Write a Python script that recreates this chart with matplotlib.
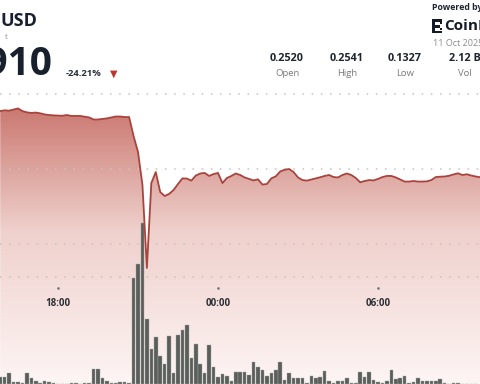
import matplotlib

matplotlib.use("Agg")
import matplotlib.dates as mdates  # noqa: E402
import matplotlib.pyplot as plt  # noqa: E402
import matplotlib.transforms as mtransforms  # noqa: E402
import numpy as np  # noqa: E402
import pandas as pd  # noqa: E402
from matplotlib.colors import LinearSegmentedColormap  # noqa: E402
from matplotlib.patches import Polygon, Rectangle  # noqa: E402

plt.rcParams["font.family"] = ["Open Sans", "DejaVu Sans"]

W, H = 480, 384

# 10-minute price closes, 15:50 (10 Oct) onward
prices = [
    0.2509, 0.2513, 0.2511, 0.2517, 0.2523, 0.2509, 0.2502, 0.2499, 0.2501, 0.2497,
    0.2491, 0.2488, 0.2486, 0.2485, 0.2484, 0.2488, 0.2483, 0.2483, 0.2483, 0.2479,
    0.2475, 0.2464, 0.2464, 0.2467, 0.2470, 0.2475, 0.2480, 0.2480, 0.2477, 0.2477,
    0.2376, 0.2291, 0.2115, 0.1672, 0.2125, 0.2184, 0.2077, 0.2056, 0.2067, 0.2088,
    0.2120, 0.2150, 0.2149, 0.2138, 0.2165, 0.2176, 0.2179, 0.2163, 0.2173, 0.2179,
    0.2125, 0.2152, 0.2163, 0.2176, 0.2168, 0.2155, 0.2147, 0.2139, 0.2145, 0.2117,
    0.2120, 0.2150, 0.2161, 0.2187, 0.2196, 0.2200, 0.2184, 0.2155, 0.2141, 0.2138,
    0.2144, 0.2150, 0.2156, 0.2163, 0.2168, 0.2157, 0.2155, 0.2168, 0.2176, 0.2168,
    0.2152, 0.2129, 0.2136, 0.2141, 0.2139, 0.2147, 0.2157, 0.2163, 0.2163, 0.2155,
    0.2144, 0.2133, 0.2133, 0.2136, 0.2133, 0.2133, 0.2134, 0.2141, 0.2157, 0.2159,
    0.2160, 0.2164, 0.2171, 0.2177, 0.2168, 0.2172, 0.2165, 0.2160, 0.2156,
]

# 10-minute volume (relative units)
volumes = [
    7, 7, 11, 2, 2, 1, 11, 6, 3, 1, 3, 2, 1, 0.5, 0.5, 0.5, 1, 1, 0.5, 1,
    1, 15, 15, 6, 3, 1, 1, 2, 2, 1, 106, 120, 161, 65, 35, 47, 28, 20, 48, 11,
    49, 54, 59, 26, 40, 20, 11, 39, 17, 7, 10, 8, 3, 12, 12, 12, 9, 22, 17, 14,
    8, 11, 14, 22, 4, 11, 6, 6, 6, 1, 8, 6, 7, 13, 3, 1, 3, 3, 6, 1,
    1, 12, 7, 12, 4, 2, 1, 3, 14, 5, 6, 8, 1, 2, 6, 3, 3, 3, 3, 5,
    1, 0.5, 1, 1, 0.5, 0.5, 0.5, 0.5,
]

grid_levels = [0.26, 0.22, 0.18, 0.1625]
tick_times = ["2025-10-10 18:00", "2025-10-11 00:00", "2025-10-11 06:00"]
tick_labels = ["18:00", "00:00", "06:00"]

stats = [("0.2520", "Open", 287), ("0.2541", "High", 347), ("0.1327", "Low", 405), ("2.12 B", "Vol", 465)]

times = mdates.date2num(pd.date_range("2025-10-10 15:50", periods=len(prices), freq="10min"))
bar_times = times[: len(volumes)]
x0 = mdates.date2num(pd.Timestamp("2025-10-10 15:49:30"))
x1 = mdates.date2num(pd.Timestamp("2025-10-11 09:49:30"))
y_hi = 0.26 + 94 / 1875
y_lo = y_hi - H / 1875


def fx(x):
    return x / W


def fy(y):
    return 1 - y / H


fig = plt.figure(figsize=(W / 100, H / 100), dpi=100)
fig.patch.set_facecolor("white")

ax = fig.add_axes([0, 0, 1, 1])
ax.set_xlim(x0, x1)
ax.set_ylim(y_lo, y_hi)
ax.axis("off")

# gradient fill below the price line
cmap = LinearSegmentedColormap.from_list(
    "fill",
    [(0.0, "#fdf5f4"), (0.40, "#efd0cc"), (0.74, "#c8736b"), (1.0, "#c0655d")],
)
grad = np.linspace(0, 1, 256).reshape(-1, 1)
im = ax.imshow(grad, cmap=cmap, origin="lower", aspect="auto",
               extent=[x0, x1, y_lo, y_hi], zorder=1)
verts = np.column_stack([np.r_[times, times[-1], times[0]], np.r_[prices, y_lo, y_lo]])
clip = Polygon(verts, closed=True, facecolor="none", edgecolor="none")
ax.add_patch(clip)
im.set_clip_path(clip)
ax.set_xlim(x0, x1)
ax.set_ylim(y_lo, y_hi)

for level in grid_levels:
    ax.axhline(level, color="#c4c4c4", linewidth=1.1, linestyle=(0, (1, 5)), zorder=2)

# volume bars
ax_vol = fig.add_axes([0, 0, 1, 1], sharex=ax)
ax_vol.set_ylim(0, H)
ax_vol.axis("off")
ax_vol.patch.set_alpha(0)
ax_vol.bar(bar_times, volumes, width=0.82 / 144, color="#5a5f5b",
           edgecolor="#a3a7a4", linewidth=0.3)

# price line on top
ax_top = fig.add_axes([0, 0, 1, 1], sharex=ax, sharey=ax)
ax_top.axis("off")
ax_top.patch.set_alpha(0)
ax_top.plot(times, prices, color="#a8443d", linewidth=1.3, solid_joinstyle="round")
ax_top.set_xlim(x0, x1)

trans = mtransforms.blended_transform_factory(ax_top.transData, ax_top.transAxes)
tick_nums = mdates.date2num(pd.to_datetime(tick_times))
ax_top.plot(tick_nums, [fy(288)] * len(tick_nums), "o", ms=0.9, color="#777777", transform=trans)
for t, lab in zip(tick_nums, tick_labels):
    ax_top.text(t, fy(303.5), lab, transform=trans, ha="center", va="center",
                fontsize=7, fontweight="bold", color="#2e3236")

# header
fig.text(fx(1), fy(21.5), "USD", fontsize=13, fontweight="bold", color="#18202e", va="center")
fig.text(fx(5), fy(37.5), "t", fontsize=5.5, color="#8a8a8a", va="center")
fig.text(fx(53), fy(64.5), "0.1910", fontsize=28, fontweight="bold", color="#18202e",
         ha="right", va="center")
fig.text(fx(66), fy(73.5), "-24.21%", fontsize=6.8, fontweight="bold", color="#2a2f38", va="center")
fig.text(fx(114), fy(74), "\u25bc", fontsize=7, color="#b8382e", ha="center", va="center")

for value, label, xc in stats:
    fig.text(fx(xc), fy(58.5), value, fontsize=7.8, fontweight="bold", color="#1e2430",
             ha="center", va="center")
    fig.text(fx(xc), fy(73), label, fontsize=6.8, color="#7a7a7a", ha="center", va="center")

fig.text(fx(432), fy(7), "Powered by", fontsize=6.3, fontweight="bold", color="#1e2430", va="center")
fig.text(fx(444), fy(26), "CoinDesk", fontsize=11, fontweight="bold", color="#141a26", va="center")
fig.text(fx(433), fy(44), "11 Oct 2025", fontsize=6.5, color="#8c8c8c", va="center")

# CoinDesk mark
logo = [(432, 19, 2.5, 14), (432, 19, 10, 2.5), (432, 25, 8, 2.5), (432, 30.5, 10, 2.5),
        (440, 22, 2, 2), (440, 28, 2, 2)]
for lx, ly, lw, lh in logo:
    fig.patches.append(Rectangle((fx(lx), fy(ly + lh)), lw / W, lh / H,
                                 transform=fig.transFigure, facecolor="#141a26",
                                 edgecolor="none"))

fig.savefig("out.png", dpi=100)
